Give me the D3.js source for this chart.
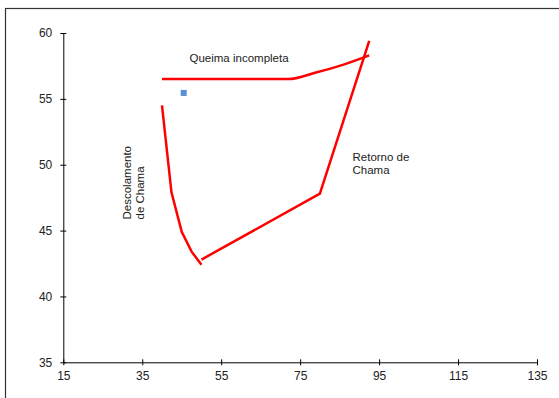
<!DOCTYPE html>
<meta charset="utf-8">
<head>
<style>
  body { margin: 0; background: #fff; }
  text { font-family: "Liberation Sans", Arial, sans-serif; }
</style>
</head>
<script src="https://d3js.org/d3.v7.min.js"></script>
<body>
  <div id="my_dataviz"></div>
</body>
<script>
  // curve data
  var queimaX = [40, 72, 79, 86, 92.5];
  var queimaY = [56.5, 56.5, 57.0, 57.6, 58.3];
  var retornoX = [50, 80, 92.5];
  var retornoY = [42.8, 47.8, 59.4];
  var descolX = [40, 42.4, 45, 47.5, 50];
  var descolY = [54.5, 47.9, 44.9, 43.4, 42.4];
  var pointX = [45.5];
  var pointY = [55.45];
  var xTicks = [15, 35, 55, 75, 95, 115, 135];
  var yTicks = [35, 40, 45, 50, 55, 60];

  var W = 559, H = 398;

  var svg = d3.select("#my_dataviz")
    .append("svg")
      .attr("width", W)
      .attr("height", H);

  // outer chart frame (cropped on right and bottom)
  svg.append("rect")
    .attr("x", 5.5).attr("y", 8.5)
    .attr("width", 700).attr("height", 600)
    .attr("fill", "none")
    .attr("stroke", "#333")
    .attr("stroke-width", 1.2);

  var x = d3.scaleLinear().domain([15, 135]).range([63.3, 537]);
  var y = d3.scaleLinear().domain([35, 60]).range([362.3, 33]);

  // X axis
  var gx = svg.append("g")
    .attr("transform", "translate(0," + y(35) + ")")
    .call(d3.axisBottom(x).tickValues(xTicks).tickSizeInner(3).tickSizeOuter(0).tickPadding(6));
  gx.selectAll(".tick line").attr("y1", -3);

  // Y axis
  var gy = svg.append("g")
    .attr("transform", "translate(" + x(15) + ",0)")
    .call(d3.axisLeft(y).tickValues(yTicks).tickSizeInner(3).tickSizeOuter(0).tickPadding(8));
  gy.selectAll(".tick line").attr("x1", 3);

  svg.selectAll(".tick text")
    .style("font-family", "'Liberation Sans', Arial, sans-serif")
    .style("font-size", "12px")
    .attr("fill", "#222");
  svg.selectAll(".domain, .tick line").attr("stroke", "#000");

  function toPts(xs, ys) {
    return xs.map(function(d, i) { return [d, ys[i]]; });
  }

  var line = d3.line()
    .x(function(d) { return x(d[0]); })
    .y(function(d) { return y(d[1]); });

  var smooth = d3.line()
    .x(function(d) { return x(d[0]); })
    .y(function(d) { return y(d[1]); })
    .curve(d3.curveMonotoneX);

  svg.append("path")
    .attr("d", smooth(toPts(queimaX, queimaY)))
    .attr("fill", "none").attr("stroke", "#ff0000").attr("stroke-width", 2.5);

  svg.append("path")
    .attr("d", line(toPts(retornoX, retornoY)))
    .attr("fill", "none").attr("stroke", "#ff0000").attr("stroke-width", 2.5);

  svg.append("path")
    .attr("d", line(toPts(descolX, descolY)))
    .attr("fill", "none").attr("stroke", "#ff0000").attr("stroke-width", 2.5);

  // blue marker
  svg.selectAll(".pt")
    .data(toPts(pointX, pointY))
    .enter()
    .append("rect")
      .attr("x", function(d) { return x(d[0]) - 3; })
      .attr("y", function(d) { return y(d[1]) - 3; })
      .attr("width", 6).attr("height", 6)
      .attr("fill", "#5b8fd6");

  // annotations
  svg.append("text")
    .attr("x", 189.5).attr("y", 62)
    .style("font-size", "11.5px").attr("fill", "#222")
    .text("Queima incompleta");

  var ret = svg.append("text")
    .attr("x", 352.5).attr("y", 161)
    .style("font-size", "11.5px").attr("fill", "#222");
  ret.append("tspan").attr("x", 352.5).text("Retorno de");
  ret.append("tspan").attr("x", 352.5).attr("dy", 13).text("Chama");

  var des = svg.append("text")
    .attr("transform", "translate(130.5,219.5) rotate(-90)")
    .style("font-size", "11.5px").attr("fill", "#222");
  des.append("tspan").attr("x", 0).attr("y", 0).text("Descolamento");
  des.append("tspan").attr("x", 0).attr("dy", 13).text("de Chama");
</script>
